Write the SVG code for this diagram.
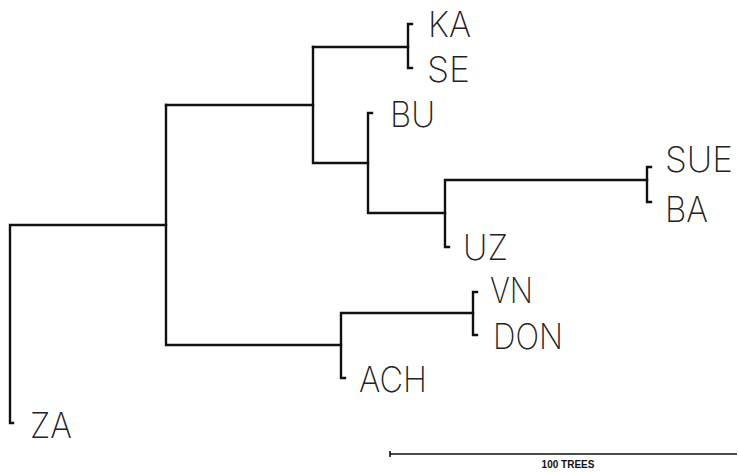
<svg xmlns="http://www.w3.org/2000/svg" width="739" height="472" viewBox="0 0 739 472">
<style>
.e{fill:none;stroke:#111;stroke-width:2.4;stroke-linecap:square;stroke-linejoin:miter}
.t{font-family:Inter,"Liberation Sans","DejaVu Sans",sans-serif;font-size:35px;fill:#222;font-weight:200}
.s{font-family:"Liberation Sans",Arial,sans-serif;font-size:10px;font-weight:bold;fill:#111;text-anchor:middle}
</style>
<rect width="739" height="472" fill="#fff"/>
<g id="connectors">
<path class="e" d="M13,423 H10 V225 H166"/>
<path class="e" d="M166,105 V345 H341"/>
<path class="e" d="M166,105 H313"/>
<path class="e" d="M313,47 V163 H368"/>
<path class="e" d="M313,47 H408"/>
<path class="e" d="M412,24 H408 V68 H412"/>
<path class="e" d="M372,113 H368 V213 H445"/>
<path class="e" d="M449,247 H445 V180 H647"/>
<path class="e" d="M651,167 H647 V202 H651"/>
<path class="e" d="M345,378 H341 V313 H473"/>
<path class="e" d="M477,292 H473 V335 H477"/>
</g>
<g id="KA"><text class="t" x="428" y="37" textLength="43" lengthAdjust="spacingAndGlyphs">KA</text></g>
<g id="SE"><text class="t" x="427" y="82" textLength="43" lengthAdjust="spacingAndGlyphs">SE</text></g>
<g id="BU"><text class="t" x="390" y="127" textLength="45" lengthAdjust="spacingAndGlyphs">BU</text></g>
<g id="SUE"><text class="t" x="665" y="172" textLength="68" lengthAdjust="spacingAndGlyphs">SUE</text></g>
<g id="BA"><text class="t" x="665" y="222" textLength="43" lengthAdjust="spacingAndGlyphs">BA</text></g>
<g id="UZ"><text class="t" x="463" y="260" textLength="45" lengthAdjust="spacingAndGlyphs">UZ</text></g>
<g id="VN"><text class="t" x="490" y="303" textLength="43" lengthAdjust="spacingAndGlyphs">VN</text></g>
<g id="DON"><text class="t" x="493" y="349" textLength="70" lengthAdjust="spacingAndGlyphs">DON</text></g>
<g id="ACH"><text class="t" x="359" y="392" textLength="68" lengthAdjust="spacingAndGlyphs">ACH</text></g>
<g id="ZA"><text class="t" x="30" y="438" textLength="42" lengthAdjust="spacingAndGlyphs">ZA</text></g>
<g id="scale">
<path d="M390,454 H737 M390,451 V457" fill="none" stroke="#111" stroke-width="1.6"/>
<text class="s" x="568" y="468">100 TREES</text>
</g>
</svg>
